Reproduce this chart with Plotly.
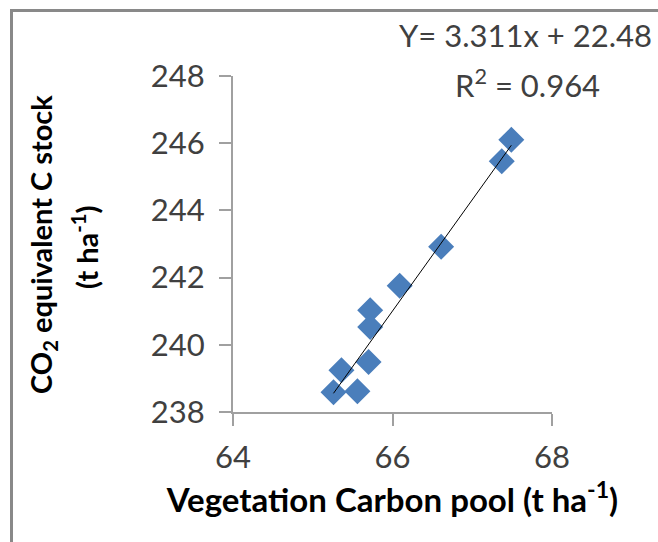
import plotly.graph_objects as go

# Data
veg_carbon = [67.49, 67.37, 66.61, 66.09, 65.72, 65.72, 65.70, 65.36, 65.26, 65.56]
co2_stock = [246.10, 245.46, 242.92, 241.76, 241.03, 240.53, 239.49, 239.24, 238.59, 238.62]
slope = 3.311
intercept = 22.48
r2 = 0.964
x_ticks = [64, 66, 68]
y_ticks = [238, 240, 242, 244, 246, 248]

W, H = 658, 542
L, R, T, B = 233, 106, 76, 130

line_x = [min(veg_carbon), max(veg_carbon)]
line_y = [slope * v + intercept for v in line_x]

fig = go.Figure()
fig.add_trace(go.Scatter(
    x=veg_carbon, y=co2_stock, mode="markers",
    marker=dict(symbol="diamond", size=20, color="#4A7EBB", line=dict(width=0)),
    showlegend=False, hoverinfo="x+y"))
fig.add_trace(go.Scatter(
    x=line_x, y=line_y, mode="lines",
    line=dict(color="#000000", width=1),
    showlegend=False, hoverinfo="skip"))

font_family = "Lato, Open Sans, sans-serif"
axis_common = dict(
    showgrid=False, zeroline=False, showline=True,
    linecolor="#A0A0A0", linewidth=2,
    ticks="outside", ticklen=12, tickwidth=2, tickcolor="#A0A0A0",
    tickfont=dict(family=font_family, size=31, color="#404040"),
)

fig.update_layout(
    width=W, height=H,
    margin=dict(l=L, r=R, t=T, b=B),
    paper_bgcolor="white", plot_bgcolor="white",
    xaxis=dict(range=[64, 68], tickvals=x_ticks, **axis_common,
               ticklabelstandoff=5,
               title=dict(text="<b>Vegetation Carbon pool (t ha<sup>-1</sup>)</b>",
                          font=dict(family=font_family, size=33, color="#000000"),
                          standoff=15)),
    yaxis=dict(range=[238, 248], tickvals=y_ticks, **axis_common,
               ticklabelstandoff=8),
    font=dict(family=font_family),
)

pw = W - L - R
ph = H - T - B
def px_to_paper_x(px):
    return (px - L) / pw
def px_to_paper_y(py):
    return (H - B - py) / ph

# Y-axis title (two rotated lines)
fig.add_annotation(x=px_to_paper_x(42), y=px_to_paper_y(245), xref="paper", yref="paper",
                   text="<b>CO<sub>2</sub> equivalent C stock</b>", showarrow=False,
                   textangle=-90, xanchor="center", yanchor="middle",
                   font=dict(family=font_family, size=29, color="#000000"))
fig.add_annotation(x=px_to_paper_x(85), y=px_to_paper_y(247), xref="paper", yref="paper",
                   text="<b>(t ha<sup>-1</sup>)</b>", showarrow=False,
                   textangle=-90, xanchor="center", yanchor="middle",
                   font=dict(family=font_family, size=29, color="#000000"))

fig.add_annotation(x=px_to_paper_x(525), y=px_to_paper_y(35), xref="paper", yref="paper",
                   text=f"Y= {slope}x + {intercept}", showarrow=False,
                   xanchor="center", yanchor="middle",
                   font=dict(family=font_family, size=31, color="#404040"))
fig.add_annotation(x=px_to_paper_x(527), y=px_to_paper_y(83), xref="paper", yref="paper",
                   text=f"R<sup>2</sup> = {r2}", showarrow=False,
                   xanchor="center", yanchor="middle",
                   font=dict(family=font_family, size=31, color="#404040"))

# Chart-area border (extends beyond the bottom and right of the view)
fig.add_shape(type="rect", xref="paper", yref="paper",
              x0=px_to_paper_x(11.5), x1=px_to_paper_x(720),
              y0=px_to_paper_y(600), y1=px_to_paper_y(10.5),
              line=dict(color="#898989", width=3), fillcolor="rgba(0,0,0,0)",
              layer="below")

fig.write_html("out.html")
